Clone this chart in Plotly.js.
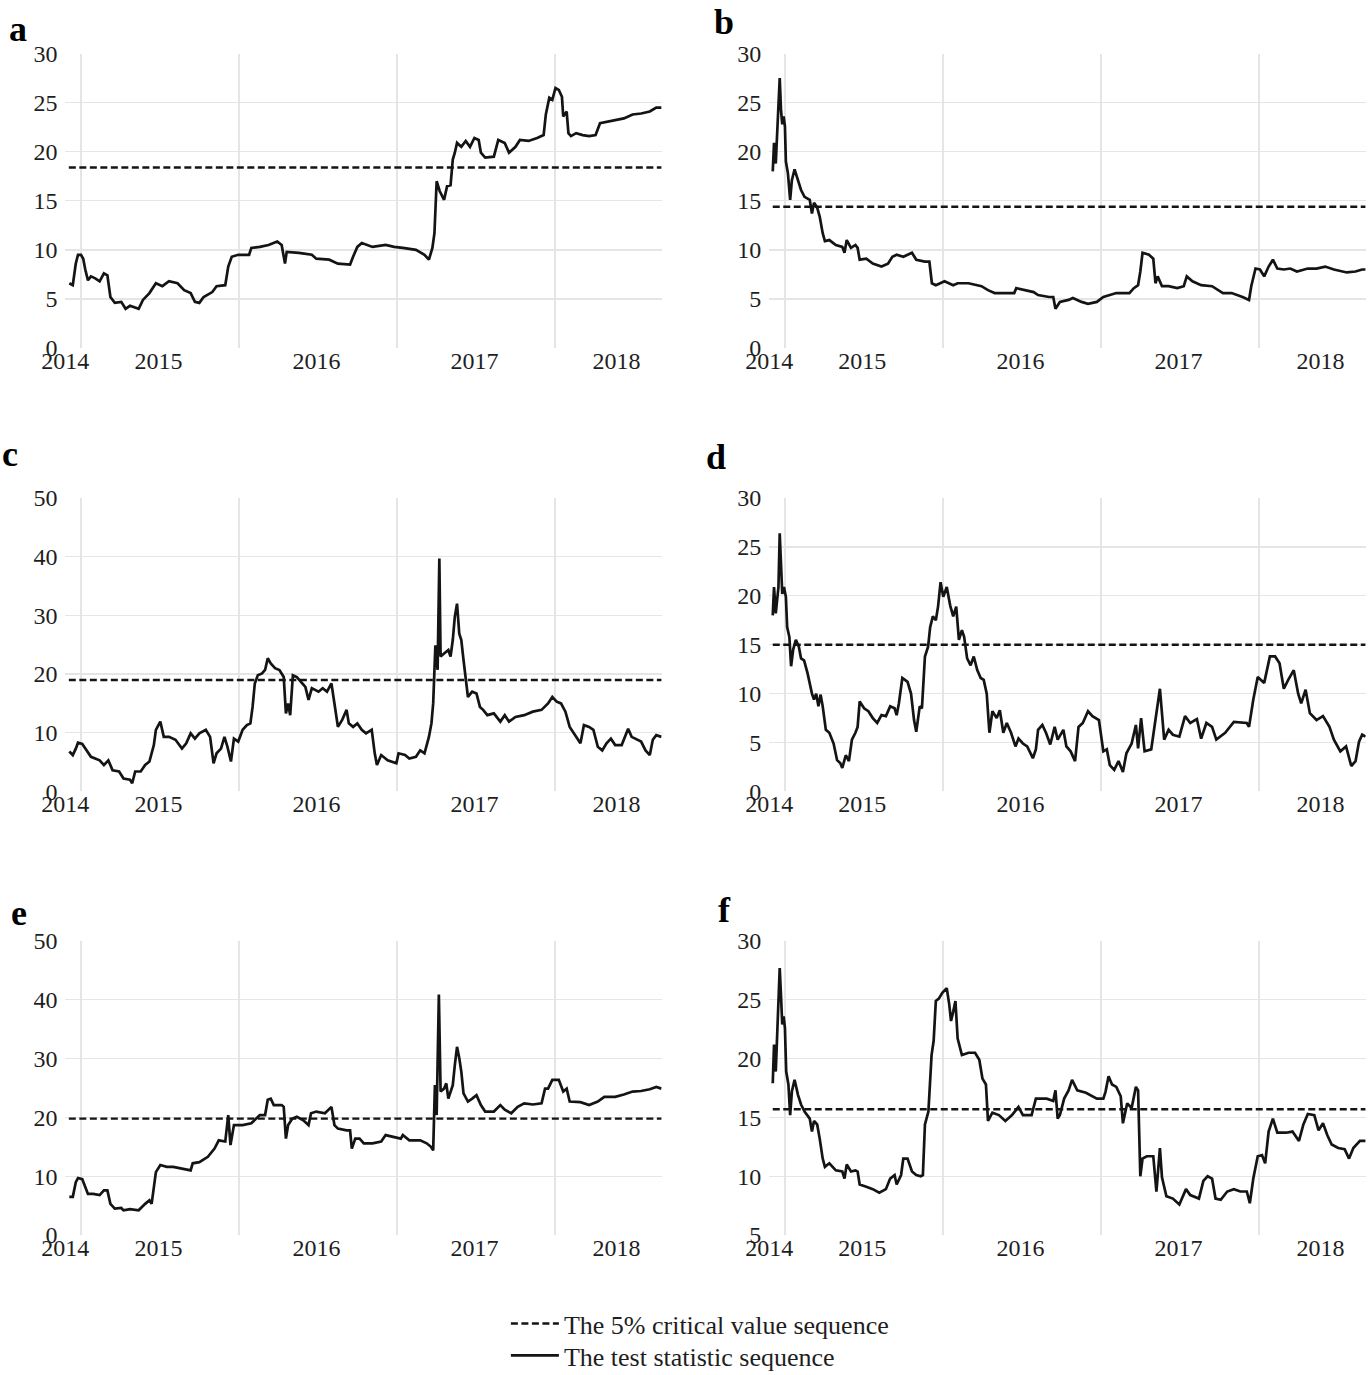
<!DOCTYPE html>
<html><head><meta charset="utf-8">
<script src="https://cdn.plot.ly/plotly-3.0.1.min.js"></script>
<style>html,body{margin:0;padding:0;background:#fff;}#chart{width:1371px;height:1375px;}</style>
</head><body><div id="chart"></div>
<script>
// ---------- data (decimal years, test statistic values) ----------
const panelLabels = ['a','b','c','d','e','f'];
const yearTickVals = [2014.90, 2015.49, 2016.49, 2017.49, 2018.39];
const yearTickText = ['2014','2015','2016','2017','2018'];
const yearBoundaries = [2015, 2016, 2017, 2018];
const axisRange = [2014.90, 2018.675];
const sampleRange = [2014.923, 2018.675];
const criticalValues = [18.4, 14.4, 19.0, 15.0, 19.8, 15.7];
const yRangeA = [0,30], yRangeB = [0,30], yRangeC = [0,50], yRangeD = [0,30], yRangeE = [0,50], yRangeF = [5,30];
const yTicksA = [0,5,10,15,20,25,30];
const yTicksB = [0,5,10,15,20,25,30];
const yTicksC = [0,10,20,30,40,50];
const yTicksD = [0,5,10,15,20,25,30];
const yTicksE = [0,10,20,30,40,50];
const yTicksF = [5,10,15,20,25,30];
const legendNames = ['The 5% critical value sequence', 'The test statistic sequence'];

const tA = [2014.926,2014.948,2014.967,2014.981,2015.000,2015.014,2015.027,2015.044,2015.063,2015.090,
2015.118,2015.145,2015.167,2015.186,2015.214,2015.255,2015.282,2015.310,2015.365,2015.392,
2015.433,2015.474,2015.515,2015.557,2015.611,2015.653,2015.694,2015.721,2015.749,2015.776,
2015.831,2015.858,2015.913,2015.932,2015.954,2015.995,2016.064,2016.078,2016.132,2016.187,
2016.242,2016.270,2016.291,2016.302,2016.379,2016.461,2016.489,2016.571,2016.626,2016.681,
2016.703,2016.722,2016.749,2016.777,2016.845,2016.928,2016.982,2017.037,2017.120,2017.174,
2017.202,2017.224,2017.237,2017.251,2017.270,2017.298,2017.317,2017.339,2017.353,2017.366,
2017.380,2017.407,2017.435,2017.462,2017.490,2017.517,2017.531,2017.558,2017.613,2017.641,
2017.682,2017.709,2017.750,2017.778,2017.833,2017.887,2017.928,2017.942,2017.964,2017.983,
2018.003,2018.024,2018.044,2018.052,2018.074,2018.085,2018.101,2018.134,2018.175,2018.216,
2018.257,2018.285,2018.354,2018.436,2018.491,2018.545,2018.600,2018.641,2018.674];
const vA = [6.6,6.4,8.6,9.5,9.5,9.1,8.0,6.9,7.3,7.1,
6.8,7.6,7.4,5.2,4.6,4.7,4.0,4.3,4.0,4.9,
5.6,6.6,6.3,6.8,6.6,5.9,5.6,4.7,4.6,5.2,
5.7,6.3,6.4,8.3,9.3,9.5,9.5,10.2,10.3,10.5,
10.85,10.5,8.6,9.8,9.7,9.5,9.1,9.0,8.6,8.5,
8.5,9.3,10.3,10.7,10.3,10.5,10.3,10.2,10.0,9.5,
9.0,10.2,11.7,17.0,16.0,15.1,16.5,16.6,19.2,19.9,
20.9,20.5,21.1,20.5,21.4,21.2,19.9,19.4,19.5,21.2,
20.9,19.9,20.5,21.2,21.1,21.4,21.7,23.8,25.5,25.3,
26.5,26.3,25.6,23.6,24.1,21.9,21.6,21.9,21.7,21.6,
21.7,22.9,23.1,23.4,23.8,23.9,24.1,24.5,24.5];

const tB = [2014.923,2014.931,2014.942,2014.950,2014.959,2014.967,2014.975,2014.983,2014.992,2015.000,
2015.006,2015.019,2015.033,2015.044,2015.061,2015.083,2015.102,2015.124,2015.157,2015.171,
2015.184,2015.204,2015.220,2015.239,2015.253,2015.281,2015.322,2015.363,2015.377,2015.391,
2015.418,2015.446,2015.460,2015.473,2015.515,2015.556,2015.611,2015.652,2015.680,2015.707,
2015.749,2015.804,2015.831,2015.886,2015.914,2015.930,2015.955,2016.010,2016.065,2016.093,
2016.162,2016.244,2016.285,2016.327,2016.451,2016.464,2016.519,2016.574,2016.602,2016.671,
2016.698,2016.712,2016.740,2016.795,2016.822,2016.877,2016.918,2016.974,2017.015,2017.056,
2017.097,2017.180,2017.208,2017.235,2017.249,2017.263,2017.304,2017.331,2017.345,2017.359,
2017.386,2017.428,2017.483,2017.524,2017.543,2017.579,2017.634,2017.703,2017.744,2017.772,
2017.827,2017.868,2017.896,2017.937,2017.951,2017.978,2018.006,2018.033,2018.061,2018.088,
2018.116,2018.157,2018.198,2018.240,2018.309,2018.364,2018.419,2018.474,2018.556,2018.611,
2018.653,2018.675];
const vB = [18.0,20.9,18.8,21.9,24.3,27.5,24.3,22.8,23.6,22.6,
19.0,17.8,15.1,17.1,18.2,17.0,16.1,15.4,15.1,13.7,
14.8,14.3,13.4,11.7,10.9,11.0,10.5,10.3,9.7,11.0,
10.2,10.5,10.2,9.0,9.1,8.6,8.3,8.6,9.3,9.5,
9.3,9.7,9.0,8.8,8.8,6.6,6.4,6.8,6.4,6.6,
6.6,6.3,5.9,5.6,5.6,6.1,5.9,5.7,5.4,5.2,
5.2,4.0,4.7,4.9,5.1,4.7,4.5,4.7,5.2,5.4,
5.6,5.6,6.1,6.4,7.8,9.7,9.5,9.1,6.6,7.3,
6.3,6.3,6.1,6.3,7.3,6.8,6.4,6.3,5.9,5.6,
5.6,5.4,5.2,4.9,6.3,8.1,8.0,7.3,8.3,9.0,
8.1,8.0,8.1,7.8,8.1,8.1,8.3,8.0,7.7,7.8,
8.0,8.0];

const tC = [2014.926,2014.948,2014.967,2014.981,2015.008,2015.036,2015.063,2015.118,2015.145,2015.173,
2015.200,2015.241,2015.269,2015.310,2015.324,2015.343,2015.378,2015.406,2015.433,2015.461,
2015.474,2015.502,2015.524,2015.557,2015.598,2015.639,2015.666,2015.694,2015.721,2015.749,
2015.790,2015.817,2015.839,2015.858,2015.886,2015.908,2015.927,2015.949,2015.968,2015.995,
2016.023,2016.050,2016.072,2016.086,2016.100,2016.119,2016.146,2016.165,2016.182,2016.201,
2016.228,2016.256,2016.283,2016.297,2016.311,2016.324,2016.341,2016.366,2016.393,2016.420,
2016.440,2016.461,2016.503,2016.530,2016.557,2016.585,2016.604,2016.626,2016.653,2016.681,
2016.695,2016.722,2016.749,2016.777,2016.804,2016.840,2016.859,2016.873,2016.900,2016.941,
2016.996,2017.010,2017.051,2017.078,2017.120,2017.147,2017.174,2017.202,2017.218,2017.229,
2017.243,2017.257,2017.268,2017.276,2017.298,2017.325,2017.339,2017.353,2017.366,2017.380,
2017.394,2017.407,2017.421,2017.435,2017.449,2017.476,2017.503,2017.525,2017.545,2017.572,
2017.613,2017.654,2017.682,2017.709,2017.750,2017.805,2017.860,2017.915,2017.956,2017.983,
2018.011,2018.038,2018.066,2018.093,2018.120,2018.161,2018.183,2018.216,2018.243,2018.271,
2018.299,2018.326,2018.354,2018.381,2018.422,2018.463,2018.485,2018.518,2018.545,2018.573,
2018.600,2018.619,2018.641,2018.674];
const vC = [6.8,6.2,7.3,8.3,8.1,7.0,5.9,5.3,4.5,5.3,
3.6,3.4,2.2,2.0,1.4,3.4,3.4,4.5,5.1,7.9,
10.5,11.9,9.3,9.3,8.8,7.3,8.2,9.9,9.0,9.9,
10.5,9.3,4.8,6.5,7.3,9.3,7.6,5.1,9.0,8.5,
10.5,11.3,11.6,14.4,18.4,19.8,20.1,20.7,22.7,21.8,
21.0,20.7,19.5,13.3,15.0,13.0,19.8,19.5,18.7,17.8,
15.6,17.6,17.0,17.6,17.0,18.4,15.0,11.0,12.2,13.9,
11.6,11.0,11.6,10.5,9.9,10.5,6.5,4.5,6.2,5.3,
4.8,6.5,6.2,5.6,5.9,7.0,6.5,9.3,11.6,15.0,
24.9,20.7,39.7,23.0,23.5,24.1,23.0,25.8,29.8,32.0,
26.9,25.8,22.4,19.5,16.1,17.0,16.7,14.4,13.9,13.0,
13.3,11.9,13.0,11.9,12.7,13.0,13.6,13.9,15.0,16.1,
15.3,15.0,13.6,11.0,9.9,8.2,11.3,11.0,10.5,7.6,
7.0,8.2,9.0,7.9,7.9,10.7,9.3,8.8,8.5,7.0,
6.2,8.8,9.6,9.3];

const tD = [2014.923,2014.931,2014.942,2014.950,2014.959,2014.967,2014.975,2014.983,2014.994,2015.006,
2015.014,2015.028,2015.039,2015.052,2015.069,2015.088,2015.102,2015.121,2015.143,2015.171,
2015.184,2015.198,2015.212,2015.226,2015.239,2015.259,2015.281,2015.308,2015.330,2015.350,
2015.363,2015.385,2015.405,2015.424,2015.446,2015.460,2015.473,2015.501,2015.528,2015.556,
2015.584,2015.611,2015.639,2015.666,2015.694,2015.707,2015.721,2015.743,2015.776,2015.798,
2015.817,2015.831,2015.853,2015.867,2015.886,2015.906,2015.919,2015.936,2015.955,2015.969,
2015.985,2016.002,2016.024,2016.046,2016.065,2016.084,2016.101,2016.120,2016.134,2016.153,
2016.175,2016.195,2016.217,2016.239,2016.258,2016.277,2016.294,2016.313,2016.340,2016.360,
2016.382,2016.404,2016.431,2016.459,2016.478,2016.506,2016.533,2016.569,2016.588,2016.602,
2016.629,2016.652,2016.679,2016.707,2016.726,2016.762,2016.781,2016.808,2016.836,2016.858,
2016.885,2016.918,2016.946,2016.987,2017.015,2017.037,2017.056,2017.084,2017.111,2017.139,
2017.161,2017.194,2017.221,2017.235,2017.254,2017.276,2017.318,2017.351,2017.373,2017.400,
2017.428,2017.455,2017.496,2017.532,2017.565,2017.607,2017.634,2017.667,2017.703,2017.730,
2017.786,2017.841,2017.896,2017.923,2017.937,2017.964,2017.992,2018.033,2018.069,2018.102,
2018.130,2018.157,2018.185,2018.220,2018.248,2018.267,2018.295,2018.322,2018.364,2018.405,
2018.446,2018.474,2018.515,2018.551,2018.584,2018.611,2018.633,2018.653,2018.675];
const vD = [18.0,20.9,18.2,19.9,20.9,26.4,23.6,20.2,20.9,19.9,
16.8,15.8,12.8,14.5,15.5,14.8,13.6,13.4,12.1,10.0,
9.4,10.0,8.7,9.9,8.7,6.3,6.0,4.9,3.2,2.9,
2.4,3.7,3.1,5.3,6.0,6.6,9.2,8.5,8.2,7.5,
7.0,7.8,7.7,8.7,8.5,7.8,9.0,11.6,11.2,10.0,
7.3,6.1,8.7,8.5,13.8,14.8,16.8,17.9,17.5,18.9,
21.4,19.9,20.9,19.0,17.9,18.9,15.5,16.5,15.8,13.6,
12.9,13.8,12.4,11.6,11.4,10.0,6.0,8.2,7.5,8.3,
6.0,7.0,6.0,4.6,5.4,4.9,4.6,3.4,4.3,6.3,
6.8,6.0,4.8,6.6,5.3,6.3,4.6,4.1,3.1,6.6,
7.0,8.2,7.7,7.3,4.1,4.3,2.7,2.2,3.1,2.0,
3.9,4.9,6.8,4.4,7.5,4.1,4.3,7.8,10.5,5.3,
6.3,5.8,5.6,7.7,7.0,7.4,5.4,7.0,6.6,5.3,
6.0,7.1,7.0,7.0,6.6,9.4,11.7,11.1,13.8,13.8,
13.1,10.5,11.4,12.4,10.0,9.0,10.4,8.0,7.3,7.7,
6.6,5.3,4.1,4.6,2.6,3.1,5.1,5.8,5.6];

const tE = [2014.926,2014.948,2014.967,2014.981,2015.008,2015.027,2015.044,2015.077,2015.118,2015.145,
2015.167,2015.186,2015.214,2015.255,2015.269,2015.310,2015.365,2015.406,2015.433,2015.447,
2015.461,2015.474,2015.502,2015.543,2015.584,2015.639,2015.694,2015.707,2015.749,2015.803,
2015.845,2015.872,2015.913,2015.932,2015.946,2015.968,2016.023,2016.078,2016.132,2016.165,
2016.182,2016.201,2016.220,2016.270,2016.283,2016.297,2016.311,2016.338,2016.366,2016.407,
2016.440,2016.456,2016.489,2016.544,2016.585,2016.604,2016.626,2016.681,2016.703,2016.714,
2016.736,2016.763,2016.790,2016.845,2016.900,2016.928,2016.969,2017.024,2017.037,2017.078,
2017.147,2017.188,2017.215,2017.229,2017.240,2017.251,2017.265,2017.276,2017.298,2017.312,
2017.325,2017.353,2017.366,2017.380,2017.394,2017.407,2017.421,2017.449,2017.476,2017.503,
2017.531,2017.558,2017.613,2017.654,2017.682,2017.723,2017.764,2017.805,2017.860,2017.915,
2017.937,2017.956,2017.983,2018.024,2018.052,2018.074,2018.093,2018.161,2018.216,2018.271,
2018.312,2018.381,2018.436,2018.491,2018.545,2018.600,2018.641,2018.674];
const vE = [6.5,6.5,9.0,9.7,9.5,8.2,7.0,7.0,6.8,7.6,
7.6,5.3,4.5,4.6,4.2,4.4,4.2,5.3,5.9,5.3,
8.5,10.7,11.9,11.6,11.6,11.3,11.0,12.2,12.4,13.3,
14.7,16.1,15.9,20.4,15.3,18.7,18.7,19.0,20.4,20.4,
23.0,23.2,22.1,22.1,21.8,16.4,18.7,19.8,20.1,19.5,
18.7,20.7,21.0,20.7,21.8,18.7,18.1,17.8,17.8,14.7,
16.4,16.4,15.6,15.6,15.9,17.0,16.7,16.4,17.0,16.1,
16.1,15.6,15.0,14.4,25.5,20.4,40.9,24.4,24.9,25.8,
23.2,25.5,28.9,32.0,30.1,27.8,24.1,22.7,23.2,23.8,
22.1,21.0,21.0,22.1,21.3,20.7,21.8,22.4,22.2,22.4,
24.9,24.9,26.4,26.4,24.4,24.9,22.7,22.6,22.1,22.7,
23.5,23.5,23.9,24.4,24.5,24.8,25.2,24.9];

const tF = [2014.923,2014.931,2014.942,2014.950,2014.959,2014.967,2014.975,2014.983,2014.992,2015.000,
2015.008,2015.022,2015.033,2015.044,2015.061,2015.083,2015.102,2015.124,2015.157,2015.171,
2015.184,2015.204,2015.220,2015.239,2015.253,2015.281,2015.322,2015.363,2015.377,2015.391,
2015.418,2015.446,2015.460,2015.473,2015.515,2015.556,2015.597,2015.639,2015.666,2015.694,
2015.707,2015.735,2015.749,2015.776,2015.804,2015.831,2015.859,2015.873,2015.886,2015.908,
2015.928,2015.941,2015.955,2015.974,2015.996,2016.024,2016.040,2016.051,2016.065,2016.079,
2016.093,2016.120,2016.162,2016.203,2016.230,2016.250,2016.272,2016.285,2016.313,2016.354,
2016.395,2016.437,2016.478,2016.506,2016.561,2016.588,2016.657,2016.698,2016.712,2016.726,
2016.740,2016.767,2016.795,2016.817,2016.850,2016.905,2016.974,2017.015,2017.029,2017.048,
2017.070,2017.097,2017.125,2017.139,2017.166,2017.194,2017.221,2017.235,2017.249,2017.263,
2017.290,2017.331,2017.351,2017.373,2017.386,2017.414,2017.455,2017.496,2017.538,2017.565,
2017.620,2017.648,2017.675,2017.703,2017.725,2017.758,2017.799,2017.841,2017.882,2017.923,
2017.942,2017.964,2017.992,2018.019,2018.039,2018.061,2018.088,2018.116,2018.171,2018.212,
2018.253,2018.281,2018.309,2018.350,2018.377,2018.405,2018.432,2018.460,2018.501,2018.542,
2018.570,2018.597,2018.639,2018.675];
const vF = [17.9,21.2,18.9,21.7,24.0,27.7,25.4,22.9,23.6,22.6,
18.9,17.8,15.2,17.2,18.2,16.9,16.1,15.5,14.9,13.8,
14.7,14.4,13.2,11.5,10.8,11.1,10.5,10.4,9.8,11.0,
10.4,10.5,10.4,9.3,9.1,8.9,8.6,8.9,9.8,10.1,
9.3,10.1,11.5,11.5,10.4,10.1,10.0,10.1,14.4,15.5,
20.3,21.5,24.9,25.1,25.6,26.0,24.6,23.2,24.0,24.9,
21.7,20.3,20.5,20.5,19.9,18.3,17.8,14.7,15.4,15.2,
14.7,15.2,15.9,15.2,15.2,16.6,16.6,16.4,17.3,14.9,
15.2,16.6,17.3,18.2,17.3,17.1,16.6,16.6,17.2,18.5,
17.8,17.6,16.8,14.5,16.2,15.8,17.6,17.3,10.0,11.5,
11.7,11.7,8.7,12.4,9.9,8.3,8.1,7.6,8.9,8.4,
8.1,9.6,10.0,9.8,8.1,8.0,8.7,8.9,8.7,8.7,
7.7,9.8,11.7,11.8,11.1,13.8,14.9,13.7,13.7,13.8,
13.0,14.4,15.3,15.2,13.9,14.5,13.5,12.7,12.4,12.3,
11.5,12.4,13.0,13.0];

// ---------- layout ----------
const series = [[tA,vA],[tB,vB],[tC,vC],[tD,vD],[tE,vE],[tF,vF]];
const yRanges = [yRangeA,yRangeB,yRangeC,yRangeD,yRangeE,yRangeF];
const yTicks = [yTicksA,yTicksB,yTicksC,yTicksD,yTicksE,yTicksF];
const colDomains = [[0.04756, 0.4826],[0.5610, 0.9961]];
const rowDomains = [[0.7469, 0.9610],[0.4244, 0.6378],[0.1018, 0.3156]];
const labelPos = [[7,29],[712,22.5],[0,454],[704,457],[9,912.5],[716,910]];
const FONT = 'Liberation Serif';
const GRID = '#e5e5e5';
const INK = '#141414';
const TXT = '#1e1e1e';
const W = 1371, H = 1375;

const legendBase = {
  x: 0.369, xanchor: 'left', yanchor: 'top',
  bgcolor: 'rgba(0,0,0,0)', font: {family: FONT, size: 26, color: TXT},
  itemwidth: 48
};

const traces = [];
const layout = {
  width: W, height: H,
  margin: {l:0, r:0, t:0, b:0, autoexpand: false},
  paper_bgcolor: '#ffffff', plot_bgcolor: '#ffffff',
  font: {family: FONT, size: 24, color: TXT},
  showlegend: true,
  legend: Object.assign({}, legendBase, {y: 0.0545}),
  legend2: Object.assign({}, legendBase, {y: 0.0313}),
  annotations: [],
  hovermode: false
};

for (let i = 0; i < 6; i++) {
  const row = Math.floor(i / 2), col = i % 2;
  const n = i === 0 ? '' : String(i + 1);
  const ticks = yTicks[i];
  layout['xaxis' + n] = {
    domain: colDomains[col], anchor: 'y' + n, range: axisRange,
    tickmode: 'array', tickvals: yearTickVals, ticktext: yearTickText,
    showgrid: false, zeroline: false, showline: false, ticks: '',
    ticklabelstandoff: -4,
    tickfont: {family: FONT, size: 24, color: TXT},
    minor: {tickmode: 'array', tickvals: yearBoundaries, showgrid: true, gridcolor: GRID, gridwidth: 1.3, ticks: ''},
    fixedrange: true
  };
  layout['yaxis' + n] = {
    domain: rowDomains[row], anchor: 'x' + n, range: yRanges[i],
    tickmode: 'array', tickvals: ticks,
    showgrid: false, zeroline: false, showline: false,
    ticks: 'outside', ticklen: 2, tickcolor: 'rgba(0,0,0,0)',
    tickfont: {family: FONT, size: 24, color: TXT},
    minor: {tickmode: 'array', tickvals: ticks.slice(1, -1), showgrid: true, gridcolor: GRID, gridwidth: 1.3, ticks: ''},
    fixedrange: true
  };
  traces.push({
    type: 'scatter', mode: 'lines', x: sampleRange, y: [criticalValues[i], criticalValues[i]],
    xaxis: 'x' + n, yaxis: 'y' + n, name: legendNames[0], legend: 'legend',
    showlegend: i === 0, line: {color: INK, width: 2.4, dash: '7px,3.5px'}, hoverinfo: 'skip'
  });
  traces.push({
    type: 'scatter', mode: 'lines', x: series[i][0], y: series[i][1],
    xaxis: 'x' + n, yaxis: 'y' + n, name: legendNames[1], legend: 'legend2',
    showlegend: i === 0, line: {color: INK, width: 2.7}, hoverinfo: 'skip'
  });
  layout.annotations.push({
    text: '<b>' + panelLabels[i] + '</b>', xref: 'paper', yref: 'paper',
    x: labelPos[i][0] / W, y: 1 - labelPos[i][1] / H, xanchor: 'left', yanchor: 'middle',
    showarrow: false, font: {family: FONT, size: 36, color: '#000'}
  });
}

Plotly.newPlot('chart', traces, layout, {staticPlot: true, displayModeBar: false});
</script>
</body></html>
